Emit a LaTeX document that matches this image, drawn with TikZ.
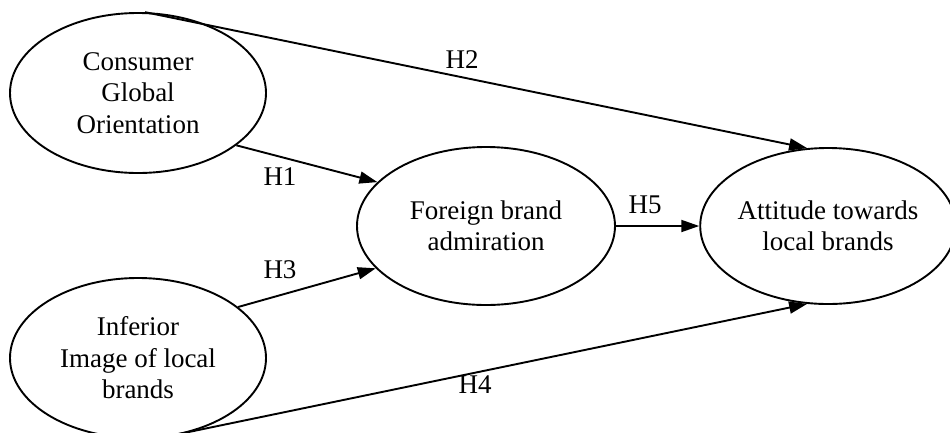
\documentclass[tikz,border=0pt]{standalone}
\usepackage{fontspec}
\setmainfont{Liberation Serif}
\usetikzlibrary{shapes.geometric,arrows.meta}
\begin{document}
\begin{tikzpicture}[x=1pt,y=-1pt,
  construct/.style={ellipse,draw,line width=1.9pt,inner sep=0pt,align=center,
    minimum width=256pt,minimum height=160pt,
    font=\fontsize{27}{31.5}\selectfont},
  path/.style={line width=1.9pt,-{Triangle[length=18pt,width=12pt]}},
  hlab/.style={font=\fontsize{27}{31.5}\selectfont}]
\useasboundingbox (0,0) rectangle (950,432);
\clip (0,0) rectangle (950,432);
\node[construct] (cgo) at (138,93) {Consumer\\Global\\Orientation};
\node[construct] (iil) at (138,358) {Inferior\\Image of local\\brands};
\node[construct,minimum width=258pt,minimum height=158pt] (fba) at (486,226) {Foreign brand\\admiration};
\node[construct,minimum width=254pt,minimum height=156pt] (atl) at (828,226) {Attitude towards\\local brands};
\draw[path] (cgo.85) -- (atl.105);
\draw[path] (cgo.-28) -- (fba.158);
\draw[path] (iil.27) -- (fba.-159);
\draw[path] (iil.-73) -- (atl.-105);
\draw[path] (fba.east) -- (atl.west);
\node[hlab] (h2) at (462,60) {H2};
\node[hlab] (h1) at (280,177) {H1};
\node[hlab] (h3) at (280,270) {H3};
\node[hlab] (h5) at (645,205) {H5};
\node[hlab] (h4) at (475,385) {H4};
\end{tikzpicture}
\end{document}
